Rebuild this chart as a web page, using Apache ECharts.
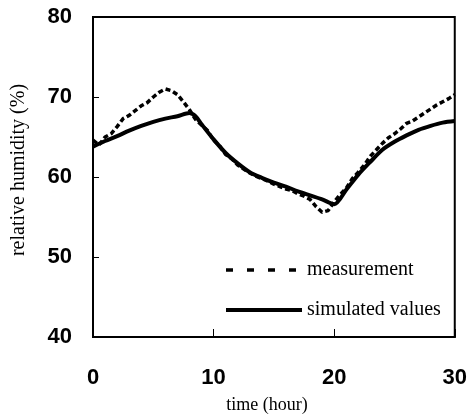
<!DOCTYPE html>
<html>
<head>
<meta charset="utf-8">
<script src="https://cdn.jsdelivr.net/npm/echarts@6/dist/echarts.min.js"></script>
<style>html,body{margin:0;padding:0;background:#fff;}#c{width:470px;height:419px;}</style>
</head>
<body>
<div id="c"></div>
<script>
// time (hour) for measurement
var measTime = [0,0.5,1,1.5,2,2.5,3,3.5,4,4.5,5,5.5,6,6.5,7,7.5,8,8.5,9,9.5,10,10.5,11,11.5,12,12.5,13,13.5,14,14.5,15,15.5,16,16.5,17,17.5,18,18.5,19,19.5,20,20.5,21,21.5,22,22.5,23,23.5,24,24.5,25,25.5,26,26.5,27,27.5,28,28.5,29,29.5,30];
var measValues = [64.6,64.0,65.0,65.4,66.3,67.3,67.7,68.3,68.9,69.3,70.0,70.6,71.0,70.8,70.3,69.4,68.4,67.2,66.5,65.8,64.6,63.9,62.8,62.3,61.5,61.0,60.5,60.1,59.8,59.5,59.1,58.8,58.5,58.3,57.9,57.6,57.2,56.3,55.6,55.8,56.9,57.8,58.6,59.8,60.6,61.5,62.6,63.4,64.2,64.9,65.4,66.0,66.7,67.0,67.5,68.0,68.5,69.0,69.4,69.8,70.3];
var simTime = [0,1,2,3,4,5,6,7,8,8.5,9,10,11,12,13,14,15,16,17,18,19,20,21,22,23,24,25,26,27,28,29,30];
var simValues = [63.8,64.5,65.1,65.8,66.4,66.9,67.3,67.6,68.0,67.6,66.6,64.7,63.0,61.7,60.6,59.9,59.3,58.8,58.2,57.7,57.2,56.6,58.4,60.3,61.9,63.4,64.4,65.2,65.9,66.4,66.8,67.0];
var xTicks = [0,10,20,30];
var yTicks = [40,50,60,70,80];
var seriesNames = ['measurement','simulated values'];

function pairs(t, v){ return t.map(function(x,i){ return [x, v[i]]; }); }

var chart = echarts.init(document.getElementById('c'));
chart.setOption({
  animation: false,
  backgroundColor: '#fff',
  color: ['#000', '#000'],
  grid: {left: 93, top: 17, width: 363, height: 326, show: true, borderColor: '#000', borderWidth: 2, backgroundColor: 'transparent'},
  legend: {
    orient: 'vertical', left: 219, top: 255, itemGap: 20, itemWidth: 76, itemHeight: 18,
    itemStyle: {opacity: 0},
    textStyle: {fontFamily: 'Liberation Serif', fontSize: 20, color: '#000'},
    data: [
      {name: seriesNames[0], lineStyle: {type: [7,14], width: 3.5, color: '#000'}},
      {name: seriesNames[1], lineStyle: {type: 'solid', width: 4, color: '#000'}}
    ]
  },
  xAxis: {
    type: 'value', min: xTicks[0], max: xTicks[xTicks.length-1], interval: 10,
    name: 'time (hour)', nameLocation: 'middle', nameGap: 59,
    nameTextStyle: {fontFamily: 'Liberation Serif', fontSize: 18, color: '#000', padding: [0,14,0,0]},
    axisLine: {show: true, lineStyle: {color: '#000', width: 2}},
    axisTick: {show: true, inside: true, length: 8, lineStyle: {color: '#000', width: 1}},
    axisLabel: {fontFamily: 'Liberation Sans', fontSize: 22, color: '#000', margin: 30, fontWeight: 'bold'},
    splitLine: {show: false}
  },
  yAxis: {
    type: 'value', min: yTicks[0], max: yTicks[yTicks.length-1], interval: 10,
    name: 'relative humidity (%)', nameLocation: 'middle', nameGap: 64, nameRotate: 90,
    nameTextStyle: {fontFamily: 'Liberation Serif', fontSize: 20, color: '#000', padding: [0,0,0,14]},
    axisLine: {show: true, lineStyle: {color: '#000', width: 2}},
    axisTick: {show: true, inside: true, length: 6, lineStyle: {color: '#000', width: 1}},
    axisLabel: {fontFamily: 'Liberation Sans', fontSize: 22, color: '#000', margin: 21, fontWeight: 'bold'},
    splitLine: {show: false}
  },
  series: [
    {name: seriesNames[0], type: 'line', data: pairs(measTime, measValues), symbol: 'none', smooth: false,
     itemStyle: {color: '#000'}, lineStyle: {color: '#000', width: 3.5, type: [5,3]}},
    {name: seriesNames[1], type: 'line', data: pairs(simTime, simValues), symbol: 'none', smooth: 0.3,
     itemStyle: {color: '#000'}, lineStyle: {color: '#000', width: 4, type: 'solid'}}
  ]
});
</script>
</body>
</html>
